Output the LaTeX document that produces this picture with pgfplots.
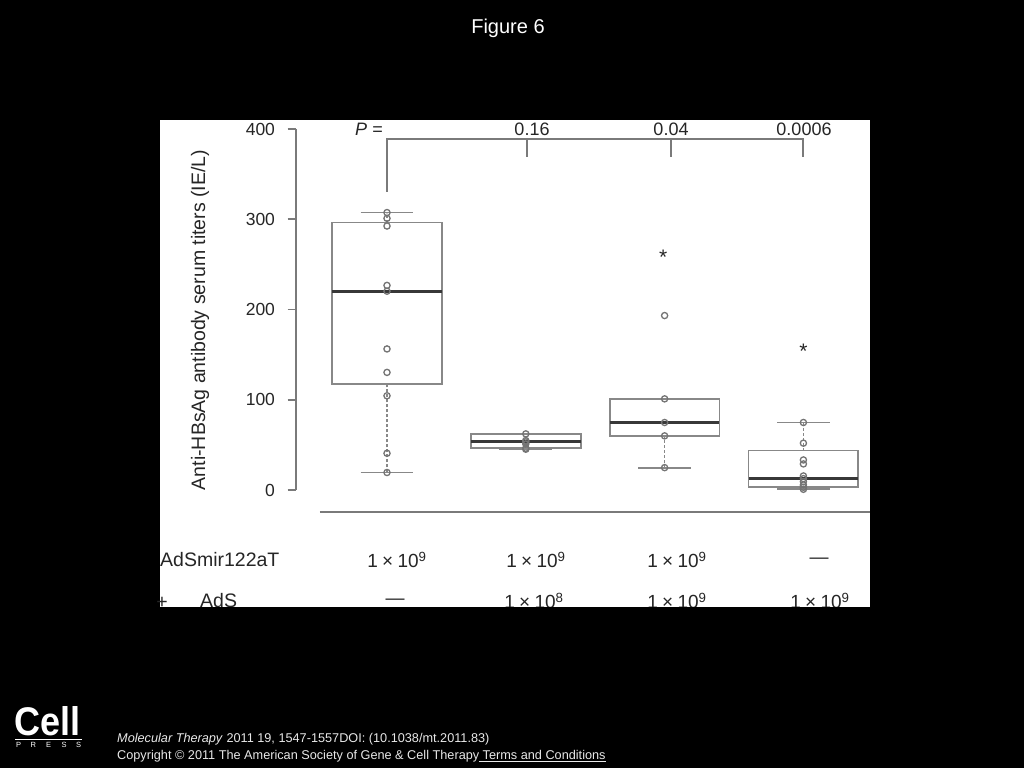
\documentclass[border=0pt]{standalone}
\usepackage{pgfplots}
\pgfplotsset{compat=1.18}
\usepackage{fontspec}
\setmainfont{Liberation Sans}

\definecolor{boxgray}{HTML}{888888}
\definecolor{axgray}{HTML}{7A7A7A}
\definecolor{meddark}{HTML}{383838}
\definecolor{txt}{HTML}{262626}
\definecolor{foot}{HTML}{E8E8E8}

\newcommand{\fs}[1]{\fontsize{#1}{#1}\selectfont}
\newcommand{\ten}[1]{1\:×\:10\textsuperscript{#1}}

\pgfplotsset{
  wsk/.style={boxgray, line width=1.5pt, densely dashed},
  cap/.style={boxgray, line width=1.8pt},
  bx/.style={draw=boxgray, fill=white, line width=1.8pt, line join=miter},
  med/.style={meddark, line width=3pt},
  pts/.style={only marks, mark=o, mark size=3.1pt, boxgray!85!black,
    mark options={line width=1.3pt}},
}

\begin{document}
\begin{tikzpicture}
\useasboundingbox (0,0) rectangle (1024pt,-768pt);
\fill[black] (0,0) rectangle (1024pt,-768pt);

\begin{scope}[x=1pt,y=-1pt]
  \fill[white] (160,120) rectangle (870,607);
  \node[white, font=\fs{20}, anchor=base] at (508,33.3) {Figure 6};
\end{scope}

\begin{axis}[
  at={(296pt,-490pt)}, anchor=south west,
  scale only axis, width=574pt, height=361pt,
  xmin=0.3444, xmax=4.4798, ymin=0, ymax=400,
  axis x line=none, axis y line*=left,
  ytick={0,100,200,300,400},
  tick align=outside, major tick length=8.5pt,
  y axis line style={axgray, line width=1.9pt},
  ytick style={axgray, line width=1.9pt},
  yticklabel style={txt, font=\fs{17.5}, xshift=-9pt},
  /pgf/number format/assume math mode=true,
  clip=false,
]
% group 1: whiskers 19.4 / 307.4, quartiles 117.4 / 296.3, median 220.3
\addplot[wsk] coordinates {(1,19.4) (1,117.4)};
\addplot[wsk] coordinates {(1,296.3) (1,307.4)};
\addplot[cap] coordinates {(0.81,19.4) (1.19,19.4)};
\addplot[cap] coordinates {(0.81,307.4) (1.19,307.4)};
\addplot[bx] coordinates {(0.605,117.4) (1.395,117.4) (1.395,296.3) (0.605,296.3) (0.605,117.4) (1.395,117.4)};
\addplot[med] coordinates {(0.605,220.3) (1.395,220.3)};
% group 2: whiskers 45.2 / 62.2, quartiles 46.3 / 62.2, median 53.5
\addplot[cap] coordinates {(1.81,45.2) (2.19,45.2)};
\addplot[bx] coordinates {(1.605,46.3) (2.395,46.3) (2.395,62.2) (1.605,62.2) (1.605,46.3) (2.395,46.3)};
\addplot[med] coordinates {(1.605,53.5) (2.395,53.5)};
% group 3: whiskers 24.8 / 101, quartiles 60 / 101, median 74.8
\addplot[wsk] coordinates {(3,24.8) (3,60)};
\addplot[cap] coordinates {(2.81,24.8) (3.19,24.8)};
\addplot[bx] coordinates {(2.605,60) (3.395,60) (3.395,101) (2.605,101) (2.605,60) (3.395,60)};
\addplot[med] coordinates {(2.605,74.8) (3.395,74.8)};
% group 4: whiskers 0.8 / 74.8, quartiles 3 / 43.7, median 12.6
\addplot[wsk] coordinates {(4,43.7) (4,74.8)};
\addplot[cap] coordinates {(3.81,0.8) (4.19,0.8)};
\addplot[cap] coordinates {(3.81,74.8) (4.19,74.8)};
\addplot[bx] coordinates {(3.605,3) (4.395,3) (4.395,43.7) (3.605,43.7) (3.605,3) (4.395,3)};
\addplot[med] coordinates {(3.605,12.6) (4.395,12.6)};

% individual animals
\addplot[pts] coordinates {
  (1,307.4) (1,301) (1,292.5) (1,226.7) (1,220.3) (1,156.3)
  (1,130.3) (1,104.4) (1,40.7) (1,19.4)
};
\addplot[pts] coordinates {
  (2,62.2) (2,54.8) (2,53.3) (2,51) (2,46.3) (2,45.2)
};
\addplot[pts] coordinates {
  (3,193.3) (3,101) (3,74.8) (3,60) (3,24.8)
};
\addplot[pts] coordinates {
  (4,74.8) (4,51.9) (4,33.3) (4,28.9) (4,15.6) (4,12.6)
  (4,9.3) (4,5.6) (4,3) (4,0.8)
};

% significance bracket and stars
\draw[axgray, line width=1.9pt]
  (axis cs:1,330.2) -- (axis cs:1,388.6) -- (axis cs:4,388.6) -- (axis cs:4,369.3);
\draw[axgray, line width=1.9pt] (axis cs:2.006,388.6) -- (axis cs:2.006,369.3);
\draw[axgray, line width=1.9pt] (axis cs:3.044,388.6) -- (axis cs:3.044,369.3);
\node[txt, font=\fs{21}] at (axis cs:2.99,257.5) {*};
\node[txt, font=\fs{21}] at (axis cs:4,153.5) {*};

% baseline under the groups
\draw[axgray, line width=2pt] (axis cs:0.517,-24) -- (axis cs:4.48,-24);
\end{axis}

\begin{scope}[x=1pt,y=-1pt]
  % P values
  \node[txt, font=\fs{18}] at (369,129) {\textit{P} =};
  \node[txt, font=\fs{18}] at (532,129) {0.16};
  \node[txt, font=\fs{18}] at (671,129) {0.04};
  \node[txt, font=\fs{18}] at (804,129) {0.0006};
  % y label
  \node[txt, font=\fs{19.5}, rotate=90] at (200,320)
    {Anti-HBsAg antibody serum titers (IE/L)};
  % dose table
  \node[txt, font=\fs{19.5}, anchor=west, inner sep=0] at (160,560) {AdSmir122aT};
  \node[txt, font=\fs{19}] at (397,560) {\ten{9}};
  \node[txt, font=\fs{19}] at (536,560) {\ten{9}};
  \node[txt, font=\fs{19}] at (677,560) {\ten{9}};
  \node[txt, font=\fs{19}] at (819,561) {—};
  \node[txt, font=\fs{19.5}] at (162,603) {+};
  \node[txt, font=\fs{19.5}, anchor=west, inner sep=0] at (200,601) {AdS};
  \node[txt, font=\fs{19}] at (395,602) {—};
  \node[txt, font=\fs{19}] at (534,601) {\ten{8}};
  \node[txt, font=\fs{19}] at (677,601) {\ten{9}};
  \node[txt, font=\fs{19}] at (820,601) {\ten{9}};
  % panel cut at the bottom
  \fill[black] (150,607) rectangle (880,650);

  % footer
  \node[white, font=\bfseries\fs{40}, anchor=base west, inner sep=0, xscale=0.9]
    at (14,735) {Cell};
  \draw[white, line width=0.6pt] (15,739.5) -- (82,739.5);
  \node[white, font=\fs{7.5}, anchor=base west, inner sep=0] at (16,747.5)
    {P\hspace{9.5pt}R\hspace{10pt}E\hspace{10.5pt}S\hspace{9.5pt}S};
  \node[foot, font=\fs{12.7}, anchor=base west, inner sep=0] at (117,742.5)
    {\textit{Molecular Therapy} 2011 19, 1547-1557DOI: (10.1038/mt.2011.83)};
  \node[foot, font=\fs{12.7}, anchor=base west, inner sep=0] at (117,759.5)
    {Copyright © 2011 The American Society of Gene \& Cell Therapy\underline{ Terms and Conditions}};
\end{scope}
\end{tikzpicture}
\end{document}
